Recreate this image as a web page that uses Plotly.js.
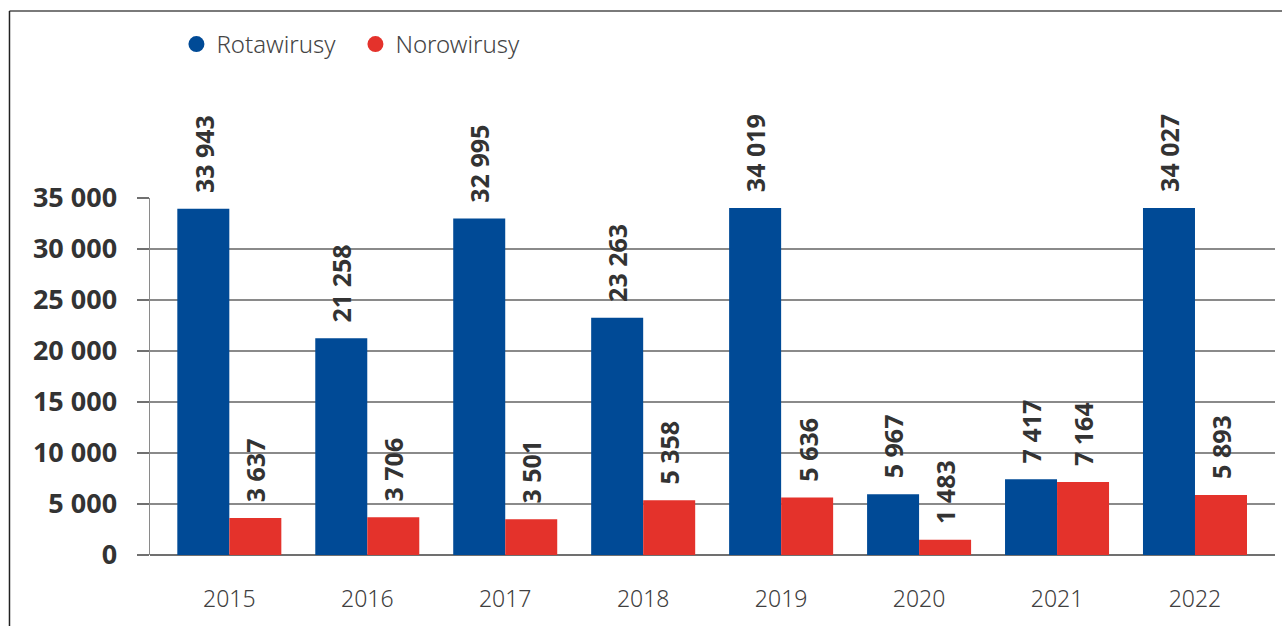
<!DOCTYPE html>
<html>
<head>
<meta charset="utf-8">
<script src="https://cdn.plot.ly/plotly-3.0.1.min.js"></script>
<style>html,body{margin:0;padding:0;background:#fff;}#chart{width:1282px;height:626px;}</style>
</head>
<body>
<div id="chart"></div>
<script>
const years = ['2015','2016','2017','2018','2019','2020','2021','2022'];
const rotawirusy = [33943, 21258, 32995, 23263, 34019, 5967, 7417, 34027];
const norowirusy = [3637, 3706, 3501, 5358, 5636, 1483, 7164, 5893];
const seriesNames = ['Rotawirusy', 'Norowirusy'];
const yTickVals = [0, 5000, 10000, 15000, 20000, 25000, 30000, 35000];
const yTickText = ['0', '5 000', '10 000', '15 000', '20 000', '25 000', '30 000', '35 000'];

const BLUE = '#004A96', RED = '#E4322B';
const fmt = v => String(v).replace(/\B(?=(\d{3})+(?!\d))/g, ' ');
const boldFont = "Open Sans, Noto Sans, sans-serif";
const narrowFont = "Noto Sans, Roboto, sans-serif";

const traces = [
  {type:'bar', x:years, y:rotawirusy, name:seriesNames[0], marker:{color:BLUE}, showlegend:false, hoverinfo:'skip'},
  {type:'bar', x:years, y:norowirusy, name:seriesNames[1], marker:{color:RED}, showlegend:false, hoverinfo:'skip'},
  {type:'scatter', mode:'markers', x:[null], y:[null], name:seriesNames[0], marker:{color:BLUE, size:16, symbol:'circle'}},
  {type:'scatter', mode:'markers', x:[null], y:[null], name:seriesNames[1], marker:{color:RED, size:16, symbol:'circle'}}
];

const annotations = [];
[[rotawirusy, -26], [norowirusy, 26]].forEach(([vals, dx]) => {
  vals.forEach((v, i) => {
    annotations.push({
      x: i, y: v, xref:'x', yref:'y', text: '<b>' + fmt(v) + '</b>', textangle: -90,
      showarrow:false, xanchor:'center', yanchor:'bottom', xshift: dx, yshift: 14,
      font:{family:boldFont, size:25, color:'#333333'}
    });
  });
});

const layout = {
  width:1282, height:626,
  margin:{l:150, r:7, t:198, b:71},
  paper_bgcolor:'#ffffff', plot_bgcolor:'#ffffff',
  barmode:'group', bargap:0.246, bargroupgap:0,
  showlegend:true,
  legend:{orientation:'h', x:0.0235, xanchor:'left', y:1.43, yanchor:'middle',
    font:{family:narrowFont, size:24, color:'#444444', weight:300}, entrywidth:134, itemclick:false},
  xaxis:{type:'category', range:[-0.575, 7.58], showgrid:false, zeroline:false,
    showline:false, ticks:'', ticklabelstandoff:28,
    tickfont:{family:narrowFont, size:23, color:'#404040', weight:300}},
  yaxis:{range:[0, 35000], tickvals:yTickVals, ticktext:yTickText,
    showgrid:true, gridcolor:'#8a8a8a', gridwidth:1.5,
    zeroline:true, zerolinecolor:'#707070', zerolinewidth:1.5,
    showline:true, linecolor:'#8a8a8a', linewidth:1.5,
    ticks:'outside', ticklen:12, tickcolor:'#707070', tickwidth:1.5,
    ticklabelstandoff:14,
    tickfont:{family:boldFont, size:27, color:'#333333', weight:700}},
  annotations: annotations,
  shapes:[
    {type:'line', xref:'paper', yref:'paper', x0:-0.1249, x1:1.2, y0:1.5238, y1:1.5238, line:{color:'#7a7a7a', width:2}},
    {type:'line', xref:'paper', yref:'paper', x0:-0.1249, x1:-0.1249, y0:1.5238, y1:-0.5, line:{color:'#222222', width:1.5}}
  ]
};

Plotly.newPlot('chart', traces, layout, {displayModeBar:false, staticPlot:true});
</script>
</body>
</html>
